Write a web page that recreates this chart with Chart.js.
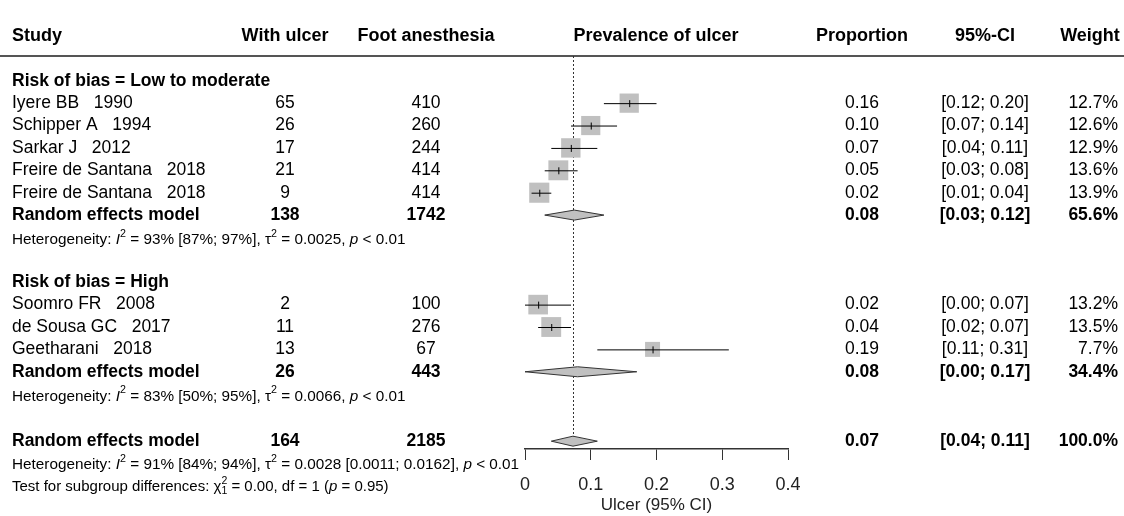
<!DOCTYPE html>
<html lang="en">
<head>
<meta charset="UTF-8">
<title>Prevalence of ulcer</title>
<script src="https://cdn.jsdelivr.net/npm/chart.js"></script>
<style>
  body { margin: 0; background: #fff; }
  #wrap { width: 1124px; height: 516px; position: relative; }
</style>
</head>
<body>
<div id="wrap"><canvas id="forest"></canvas></div>
<script>
// study rows
const studies = ['Iyere BB   1990', 'Schipper A   1994', 'Sarkar J   2012', 'Freire de Santana   2018', 'Freire de Santana   2018',
                 'Soomro FR   2008', 'de Sousa GC   2017', 'Geetharani   2018'];
const studyRow = [3, 4, 5, 6, 7, 12, 13, 14];
const ulcer = [65, 26, 17, 21, 9, 2, 11, 13];
const anesth = [410, 260, 244, 414, 414, 100, 276, 67];
const prop = [0.1585, 0.10, 0.0697, 0.0507, 0.0217, 0.02, 0.0399, 0.194];
const lower = [0.12, 0.07, 0.04, 0.03, 0.01, 0.00, 0.02, 0.11];
const upper = [0.20, 0.14, 0.11, 0.08, 0.04, 0.07, 0.07, 0.31];
const weight = [12.7, 12.6, 12.9, 13.6, 13.9, 13.2, 13.5, 7.7];

// pooled rows
const poolRow = [8, 15, 18.1];
const poolUlcer = [138, 26, 164];
const poolAnesth = [1742, 443, 2185];
const poolEst = [0.075, 0.08, 0.073];
const poolLow = [0.03, 0.00, 0.04];
const poolHigh = [0.12, 0.17, 0.11];
const poolWeight = ['65.6%', '34.4%', '100.0%'];
const poolProp = ['0.08', '0.08', '0.07'];

const groupTitles = ['Risk of bias = Low to moderate', 'Risk of bias = High'];
const groupRow = [2, 11];
const xTicks = [0, 0.1, 0.2, 0.3, 0.4];

const f2 = v => v.toFixed(2);
const FONT = '"Liberation Sans", Arial, sans-serif';

function runs(ctx, x, y, parts, size) {
  for (const p of parts) {
    let s = p.sup || p.sub ? size * 0.7 : size;
    ctx.font = (p.it ? 'italic ' : '') + s + 'px ' + FONT;
    let dy = p.sup ? -size * 0.4 : p.sub ? size * 0.3 : 0;
    ctx.fillText(p.t, x, y + dy);
    if (!p.keep) x += ctx.measureText(p.t).width;
  }
}

const forestText = {
  id: 'forestText',
  afterDraw(chart) {
    const ctx = chart.ctx, xs = chart.scales.x, ys = chart.scales.y;
    const Y = r => ys.getPixelForValue(r);
    const X = v => xs.getPixelForValue(v);
    ctx.save();
    ctx.fillStyle = '#000';
    ctx.textBaseline = 'middle';
    const cols = (r, a, b, c, d, e, bold) => {
      ctx.font = (bold ? 'bold ' : '') + '17.5px ' + FONT;
      ctx.textAlign = 'center';
      ctx.fillText(a, 285, Y(r));
      ctx.fillText(b, 426, Y(r));
      ctx.fillText(c, 862, Y(r));
      ctx.fillText(d, 985, Y(r));
      ctx.textAlign = 'right';
      ctx.fillText(e, 1118, Y(r));
      ctx.textAlign = 'left';
    };
    // header
    ctx.font = 'bold 18px ' + FONT;
    ctx.fillText('Study', 12, Y(0));
    ctx.textAlign = 'center';
    ctx.fillText('With ulcer', 285, Y(0));
    ctx.fillText('Foot anesthesia', 426, Y(0));
    ctx.fillText('Prevalence of ulcer', 656, Y(0));
    ctx.fillText('Proportion', 862, Y(0));
    ctx.fillText('95%-CI', 985, Y(0));
    ctx.fillText('Weight', 1090, Y(0));
    ctx.textAlign = 'left';
    ctx.strokeStyle = '#555';
    ctx.lineWidth = 2;
    ctx.beginPath(); ctx.moveTo(0, 56); ctx.lineTo(1124, 56); ctx.stroke();

    groupTitles.forEach((g, i) => {
      ctx.font = 'bold 17.5px ' + FONT;
      ctx.fillText(g, 12, Y(groupRow[i]));
    });
    studies.forEach((s, i) => {
      ctx.font = '17.5px ' + FONT;
      ctx.fillText(s, 12, Y(studyRow[i]));
      cols(studyRow[i], String(ulcer[i]), String(anesth[i]), f2(prop[i]),
        '[' + f2(lower[i]) + '; ' + f2(upper[i]) + ']', weight[i].toFixed(1) + '%', false);
    });
    poolRow.forEach((r, i) => {
      ctx.font = 'bold 17.5px ' + FONT;
      ctx.fillText('Random effects model', 12, Y(r));
      cols(r, String(poolUlcer[i]), String(poolAnesth[i]), poolProp[i],
        '[' + f2(poolLow[i]) + '; ' + f2(poolHigh[i]) + ']', poolWeight[i], true);
    });
    // heterogeneity
    const het = (r, i2, ci, tau, extra) => runs(ctx, 12, Y(r), [
      {t: 'Heterogeneity: '}, {t: 'I', it: true}, {t: '2', sup: true},
      {t: ' = ' + i2 + ' ' + ci + ', '}, {t: 'τ'}, {t: '2', sup: true},
      {t: ' = ' + tau + extra + ', '}, {t: 'p', it: true}, {t: ' < 0.01'}], 15.3);
    het(9.1, '93%', '[87%; 97%]', '0.0025', '');
    het(16.1, '83%', '[50%; 95%]', '0.0066', '');
    het(19.15, '91%', '[84%; 94%]', '0.0028', ' [0.0011; 0.0162]');
    runs(ctx, 12, Y(20.15), [
      {t: 'Test for subgroup differences: '}, {t: 'χ'}, {t: '2', sup: true, keep: true}, {t: '1', sub: true},
      {t: ' = 0.00, df = 1 ('}, {t: 'p', it: true}, {t: ' = 0.95)'}], 15);

    // dotted reference line
    ctx.strokeStyle = '#333';
    ctx.lineWidth = 1;
    ctx.setLineDash([2, 2]);
    ctx.beginPath();
    ctx.moveTo(X(poolEst[2]) + 0.5, 56); ctx.lineTo(X(poolEst[2]) + 0.5, chart.chartArea.bottom);
    ctx.stroke();
    ctx.setLineDash([]);

    // study boxes + CIs
    studies.forEach((s, i) => {
      const y = Y(studyRow[i]), sz = 5.4 * Math.sqrt(weight[i]);
      ctx.fillStyle = '#c0c0c0';
      ctx.fillRect(X(prop[i]) - sz / 2, y - sz / 2, sz, sz);
      ctx.strokeStyle = '#000';
      ctx.beginPath();
      ctx.moveTo(X(lower[i]), y + 0.5); ctx.lineTo(X(upper[i]), y + 0.5);
      ctx.moveTo(X(prop[i]) + 0.5, y - 3); ctx.lineTo(X(prop[i]) + 0.5, y + 4);
      ctx.stroke();
    });
    // diamonds
    poolRow.forEach((r, i) => {
      const y = Y(r);
      ctx.fillStyle = '#c0c0c0';
      ctx.strokeStyle = '#333';
      ctx.beginPath();
      ctx.moveTo(X(poolLow[i]), y); ctx.lineTo(X(poolEst[i]), y - 5);
      ctx.lineTo(X(poolHigh[i]), y); ctx.lineTo(X(poolEst[i]), y + 5);
      ctx.closePath(); ctx.fill(); ctx.stroke();
    });
    ctx.restore();
  }
};

new Chart(document.getElementById('forest'), {
  type: 'scatter',
  data: { datasets: [{ data: prop.map((p, i) => ({x: p, y: studyRow[i]})), pointRadius: 0 }] },
  options: {
    responsive: true,
    maintainAspectRatio: false,
    animation: false,
    layout: { padding: { left: 525, right: 336, top: 36, bottom: 0 } },
    plugins: { legend: { display: false }, tooltip: { enabled: false } },
    scales: {
      x: {
        type: 'linear', min: 0, max: 0.4,
        afterBuildTicks: s => { s.ticks = xTicks.map(v => ({value: v})); },
        afterFit: s => { s.height = 67; },
        grid: { drawOnChartArea: false, drawTicks: true, tickLength: 11, color: '#333' },
        border: { color: '#333', width: 1.5 },
        ticks: { color: '#222', font: { size: 18, family: FONT }, padding: 14, maxRotation: 0,
                 callback: v => String(v) },
        title: { display: true, text: 'Ulcer (95% CI)', color: '#222', font: { size: 17, family: FONT }, padding: 0 }
      },
      y: { display: false, reverse: true, min: 0, max: 18.45 }
    }
  },
  plugins: [forestText]
});
</script>
</body>
</html>
